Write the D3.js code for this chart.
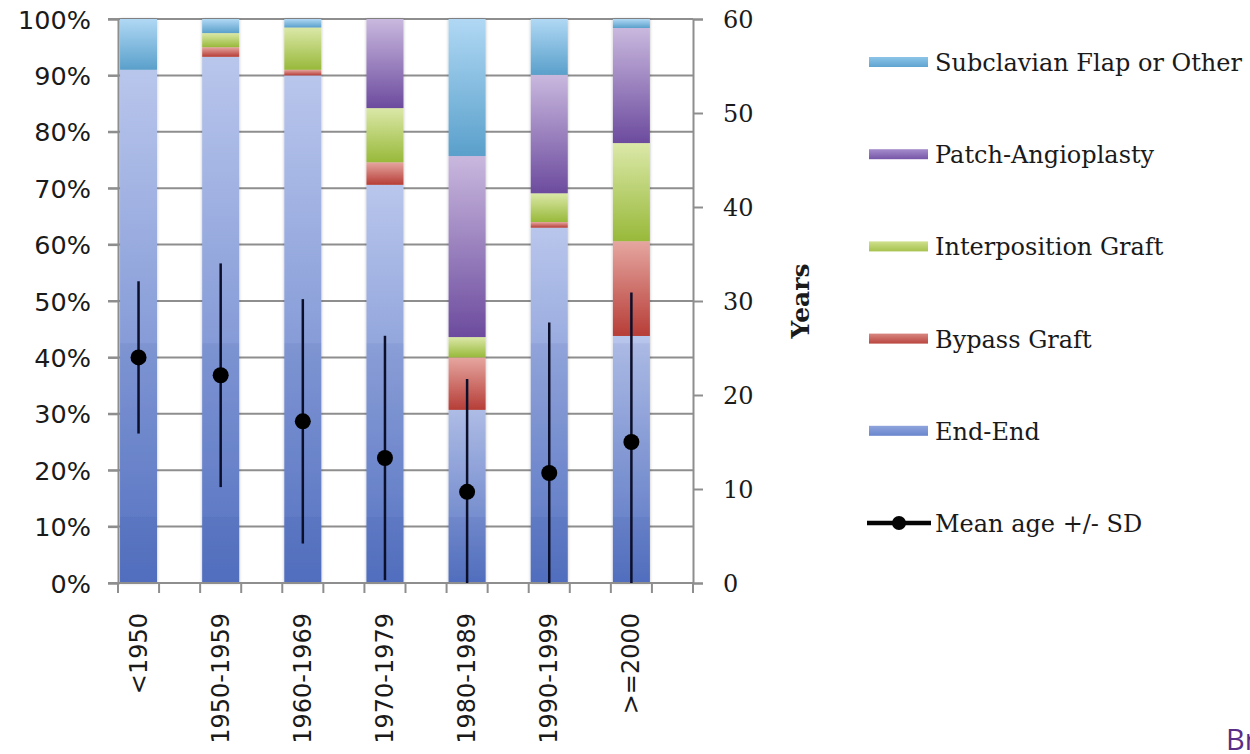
<!DOCTYPE html>
<html>
<head>
<meta charset="utf-8">
<script src="https://cdn.jsdelivr.net/npm/d3@7"></script>
<style>
  html, body { margin: 0; padding: 0; background: #ffffff; }
  svg { display: block; }
</style>
</head>
<body>
<svg id="chart" width="1250" height="754"></svg>
<script>
// ---------- data ----------
const categories = ["<1950", "1950-1959", "1960-1969", "1970-1979", "1980-1989", "1990-1999", ">=2000"];
const endEnd        = [91.0, 93.3, 90.0, 70.6, 30.7, 63.0, 43.8];
const bypassGraft   = [0.0, 1.7, 1.0, 4.0, 9.3, 1.0, 16.8];
const interposition = [0.0, 2.5, 7.5, 9.6, 3.6, 5.1, 17.4];
const patchAngio    = [0.0, 0.0, 0.0, 15.8, 32.1, 21.0, 20.4];
const subclavian    = [9.0, 2.5, 1.5, 0.0, 24.3, 9.9, 1.6];
const meanAge = [24.0, 22.1, 17.2, 13.3, 9.7, 11.7, 15.0];
const sdAge   = [8.1, 11.9, 13.0, 13.0, 12.0, 16.0, 15.9];
const pctTicks = [0, 10, 20, 30, 40, 50, 60, 70, 80, 90, 100];
const yearTicks = [0, 10, 20, 30, 40, 50, 60];
const seriesNames = ["End-End", "Bypass Graft", "Interposition Graft", "Patch-Angioplasty", "Subclavian Flap or Other"];
const legendOrder = ["Subclavian Flap or Other", "Patch-Angioplasty", "Interposition Graft", "Bypass Graft", "End-End"];
const meanLabel = "Mean age +/- SD";
const yearsTitle = "Years";
const cornerText = "Br";

// ---------- build table ----------
const seriesArrays = [endEnd, bypassGraft, interposition, patchAngio, subclavian];
const table = categories.map((c, i) => {
  const row = { cat: c };
  seriesNames.forEach((s, k) => row[s] = seriesArrays[k][i]);
  return row;
});
const stacked = d3.stack().keys(seriesNames)(table);

// ---------- styles ----------
const grad = {
  "End-End":                  ["#b9c6ec", "#5a77c6"],
  "Bypass Graft":             ["#e6a6a0", "#b63d37"],
  "Interposition Graft":      ["#dbe8a8", "#98b93a"],
  "Patch-Angioplasty":        ["#c9b8de", "#6c4b9e"],
  "Subclavian Flap or Other": ["#b0d8f4", "#5aa0cb"]
};
const legendColor = {
  "End-End": ["#8ea4dc", "#6b86cd"],
  "Bypass Graft": ["#d88680", "#b9463f"],
  "Interposition Graft": ["#cfe08e", "#a6c24c"],
  "Patch-Angioplasty": ["#a58ccc", "#7656a8"],
  "Subclavian Flap or Other": ["#8cc4e8", "#5fa4d0"]
};

const svg = d3.select("#chart");
const defs = svg.append("defs");
seriesNames.forEach((s, k) => {
  const g = defs.append("linearGradient").attr("id", "g" + k)
    .attr("x1", 0).attr("y1", 0).attr("x2", 0).attr("y2", 1);
  g.append("stop").attr("offset", "0%").attr("stop-color", grad[s][0]);
  g.append("stop").attr("offset", "100%").attr("stop-color", grad[s][1]);
  const l = defs.append("linearGradient").attr("id", "lg" + k)
    .attr("x1", 0).attr("y1", 0).attr("x2", 0).attr("y2", 1);
  l.append("stop").attr("offset", "0%").attr("stop-color", legendColor[s][0]);
  l.append("stop").attr("offset", "100%").attr("stop-color", legendColor[s][1]);
});
const f = defs.append("filter").attr("id", "soft").attr("x", "-20%").attr("y", "-5%").attr("width", "140%").attr("height", "110%");
f.append("feDropShadow").attr("dx", 0).attr("dy", 0).attr("stdDeviation", 1.6)
  .attr("flood-color", "#000").attr("flood-opacity", 0.28);
const fb = defs.append("filter").attr("id", "blur1");
fb.append("feGaussianBlur").attr("stdDeviation", 0.6);

// ---------- scales ----------
const plotL = 118, plotR = 693, plotT = 19, plotB = 583;
const x = d3.scaleBand().domain(categories).range([plotL, plotR]).padding(0);
const bw = x.bandwidth();
const barW = 37;
const cx = c => x(c) + bw * 0.25;
const y = d3.scaleLinear().domain([0, 100]).range([plotB, plotT]);
const yR = d3.scaleLinear().domain([0, 60]).range([plotB, plotT]);

// ---------- grid ----------
const gridColor = "#8e8e8e";
svg.append("g").selectAll("line").data(pctTicks).join("line")
  .attr("x1", plotL - 10).attr("x2", plotR)
  .attr("y1", d => y(d)).attr("y2", d => y(d))
  .attr("stroke", gridColor).attr("stroke-width", 2);

// ---------- bars ----------
const barG = svg.append("g").attr("filter", "url(#soft)");
stacked.forEach((layer, k) => {
  barG.append("g").selectAll("rect").data(layer.filter(d => d[1] - d[0] > 0)).join("rect")
    .attr("x", d => cx(d.data.cat) - barW / 2)
    .attr("width", barW)
    .attr("y", d => y(d[1]))
    .attr("height", d => y(d[0]) - y(d[1]))
    .attr("fill", "url(#g" + k + ")");
});
// Excel-style gradient banding in End-End segments
const endLayer = stacked[0];
[42.5, 11.7].forEach(level => {
  svg.append("g").selectAll("rect").data(endLayer).join("rect")
    .attr("x", d => cx(d.data.cat) - barW / 2)
    .attr("width", barW)
    .attr("y", d => y(Math.min(d[1], level)))
    .attr("height", d => y(0) - y(Math.min(d[1], level)))
    .attr("fill", "#1d3a8a").attr("opacity", 0.07);
});

// ---------- axes ----------
const axisColor = "#8e8e8e";
const leftAxis = svg.append("g").attr("transform", `translate(${plotL},0)`)
  .call(d3.axisLeft(y).tickValues(pctTicks).tickFormat(d => d + "%").tickSize(10).tickPadding(17));
leftAxis.select(".domain").attr("stroke", axisColor).attr("stroke-width", 2);
leftAxis.selectAll(".tick line").attr("stroke", axisColor).attr("stroke-width", 2);
leftAxis.selectAll("text").attr("font-family", "DejaVu Sans, Verdana, sans-serif")
  .attr("font-size", 25.5).attr("fill", "#1a1a1a").attr("dy", "0.36em");

const rightAxis = svg.append("g").attr("transform", `translate(${plotR},0)`)
  .call(d3.axisRight(yR).tickValues(yearTicks).tickSize(10).tickPadding(20));
rightAxis.select(".domain").attr("stroke", axisColor).attr("stroke-width", 2);
rightAxis.selectAll(".tick line").attr("stroke", axisColor).attr("stroke-width", 2);
rightAxis.selectAll("text").attr("font-family", "DejaVu Serif, serif")
  .attr("font-size", 24).attr("fill", "#1a1a1a").attr("dy", "0.36em");

// bottom axis line and half-band ticks
svg.append("line").attr("x1", plotL).attr("x2", plotR).attr("y1", plotB).attr("y2", plotB)
  .attr("stroke", axisColor).attr("stroke-width", 2);
const tickXs = [];
categories.forEach(c => { tickXs.push(x(c)); tickXs.push(x(c) + bw / 2); });
tickXs.push(plotR);
svg.append("g").selectAll("line").data(tickXs).join("line")
  .attr("x1", d => d).attr("x2", d => d).attr("y1", plotB).attr("y2", plotB + 10)
  .attr("stroke", axisColor).attr("stroke-width", 2);
svg.append("g").selectAll("text").data(categories).join("text")
  .attr("transform", d => `translate(${cx(d) + 8},${plotB + 30}) rotate(-90)`)
  .attr("text-anchor", "end")
  .attr("font-family", "DejaVu Sans, Verdana, sans-serif").attr("font-size", 24)
  .attr("fill", "#1a1a1a")
  .text(d => d);

// Years title
svg.append("text")
  .attr("transform", `translate(${809},${301}) rotate(-90)`)
  .attr("text-anchor", "middle")
  .attr("font-family", "DejaVu Serif, serif").attr("font-weight", "bold").attr("font-size", 25)
  .attr("fill", "#1a1a1a").text(yearsTitle);

// ---------- mean age +/- SD ----------
const errG = svg.append("g");
categories.forEach((c, i) => {
  const lo = Math.max(0, meanAge[i] - sdAge[i]);
  const hi = meanAge[i] + sdAge[i];
  errG.append("line").attr("x1", cx(c)).attr("x2", cx(c))
    .attr("y1", yR(lo)).attr("y2", yR(hi))
    .attr("stroke", "#0b0f2a").attr("stroke-width", 2.5);
});
errG.selectAll("circle").data(categories).join("circle")
  .attr("cx", d => cx(d)).attr("cy", (d, i) => yR(meanAge[i])).attr("r", 8)
  .attr("fill", "#050505").attr("filter", "url(#blur1)");

// ---------- legend ----------
const legX = 869, legText = 935, legY0 = 62, legStep = 92.2;
const lg = svg.append("g");
legendOrder.forEach((s, i) => {
  const k = seriesNames.indexOf(s);
  const yy = legY0 + i * legStep;
  lg.append("rect").attr("x", legX).attr("y", yy - 5).attr("width", 59).attr("height", 10)
    .attr("fill", "url(#lg" + k + ")");
  lg.append("text").attr("x", legText).attr("y", yy + 9)
    .attr("font-family", "DejaVu Serif, serif").attr("font-size", 24).attr("fill", "#1a1a1a")
    .text(s);
});
const yM = legY0 + 5 * legStep;
lg.append("line").attr("x1", legX - 2).attr("x2", legX + 62).attr("y1", yM).attr("y2", yM)
  .attr("stroke", "#050505").attr("stroke-width", 4.5);
lg.append("circle").attr("cx", legX + 30).attr("cy", yM).attr("r", 7).attr("fill", "#050505");
lg.append("text").attr("x", legText).attr("y", yM + 9)
  .attr("font-family", "DejaVu Serif, serif").attr("font-size", 24).attr("fill", "#1a1a1a")
  .text(meanLabel);

// corner text (cut by the right edge in the reference as well)
svg.append("text").attr("x", 1226).attr("y", 750)
  .attr("font-family", "Open Sans, sans-serif").attr("font-size", 29).attr("fill", "#5a2d86")
  .text(cornerText);
</script>
</body>
</html>
